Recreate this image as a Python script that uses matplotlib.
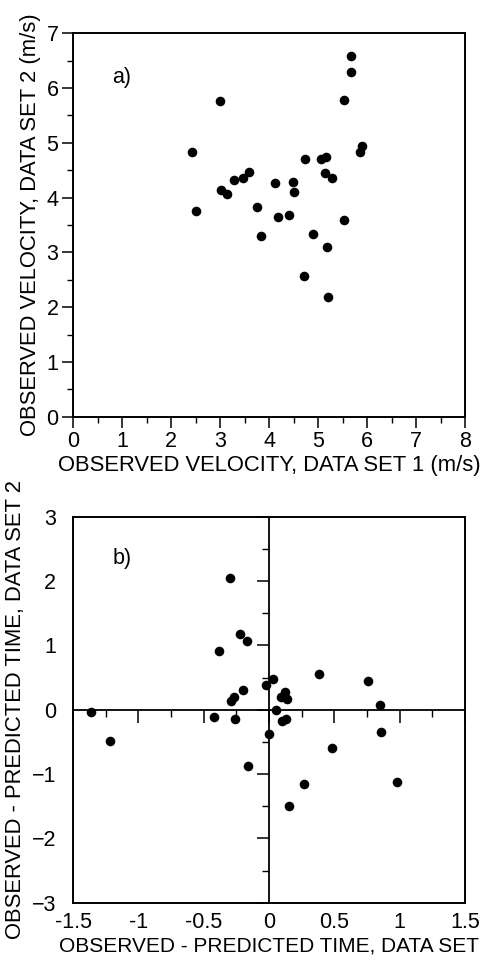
import matplotlib
matplotlib.use("Agg")
import matplotlib.pyplot as plt
from matplotlib.ticker import MultipleLocator

plt.rcParams['font.family'] = ['Liberation Sans', 'DejaVu Sans']

# panel a) observed velocity, data set 1 vs data set 2 (m/s)
vel_set1 = [2.43, 2.52, 3.01, 3.03, 3.14, 3.29, 3.46, 3.59, 3.76, 3.83,
            4.13, 4.18, 4.41, 4.49, 4.50, 4.71, 4.73, 4.90, 5.07, 5.16,
            5.14, 5.19, 5.21, 5.29, 5.54, 5.53, 5.67, 5.68, 5.86, 5.90]
vel_set2 = [4.84, 3.76, 5.76, 4.13, 4.07, 4.32, 4.36, 4.47, 3.82, 3.30,
            4.27, 3.65, 3.69, 4.28, 4.11, 2.56, 4.70, 3.34, 4.70, 4.74,
            4.45, 3.09, 2.18, 4.35, 5.79, 3.60, 6.29, 6.58, 4.83, 4.94]

# panel b) observed - predicted time residuals
res_set1 = [-1.36, -1.22, -0.42, -0.38, -0.30, -0.29, -0.27, -0.26, -0.22, -0.20,
            -0.17, -0.16, -0.02, 0.00, 0.03, 0.05, 0.09, 0.12, 0.14, 0.10,
            0.13, 0.15, 0.27, 0.38, 0.48, 0.76, 0.85, 0.86, 0.98]
res_set2 = [-0.04, -0.48, -0.12, 0.91, 2.04, 0.13, 0.19, -0.15, 1.18, 0.30,
            1.07, -0.88, 0.39, -0.37, 0.47, -0.01, 0.19, 0.27, 0.16, -0.18,
            -0.15, -1.49, -1.16, 0.55, -0.60, 0.44, 0.07, -0.35, -1.13]

TICK_FS = 15.5
LABEL_FS = 15.8
W, H = 484, 965
fig = plt.figure(figsize=(W / 100, H / 100), dpi=100)

# ----- top panel -----
ax1 = fig.add_axes([73 / W, 1 - 416.7 / H, 392 / W, 383.4 / H])
ax1.scatter(vel_set1, vel_set2, s=48, color='black', linewidths=0, zorder=3)
ax1.set_xlim(0, 8)
ax1.set_ylim(0, 7)
ax1.xaxis.set_major_locator(MultipleLocator(1))
ax1.xaxis.set_minor_locator(MultipleLocator(0.5))
ax1.yaxis.set_major_locator(MultipleLocator(1))
ax1.yaxis.set_minor_locator(MultipleLocator(0.5))
ax1.tick_params(which='major', direction='out', length=8, width=1.1,
                labelsize=TICK_FS, pad=2.5)
ax1.tick_params(which='minor', direction='out', length=4, width=1.0)
for sp in ax1.spines.values():
    sp.set_linewidth(1.4)
ax1.set_xlabel("OBSERVED VELOCITY, DATA SET 1 (m/s)", fontsize=LABEL_FS, labelpad=2)
ax1.set_ylabel("OBSERVED VELOCITY, DATA SET 2 (m/s)", fontsize=LABEL_FS, labelpad=4)
ax1.text(0.10, 0.885, "a)", transform=ax1.transAxes, fontsize=TICK_FS, va='center')

# ----- bottom panel -----
pos2 = [73 / W, 1 - 902.7 / H, 392 / W, 386 / H]
ax2 = fig.add_axes(pos2)
ax2.scatter(res_set1, res_set2, s=48, color='black', linewidths=0, zorder=3)
ax2.set_xlim(-1.5, 1.5)
ax2.set_ylim(-3, 3)
ax2.set_xticks([-1.5, -1, -0.5, 0, 0.5, 1, 1.5])
ax2.set_xticklabels(["-1.5", "-1", "-0.5", "0", "0.5", "1", "1.5"])
ax2.set_yticks([-3, -2, -1, 0, 1, 2, 3])
ax2.tick_params(axis='x', length=0, labelsize=TICK_FS, pad=7)
ax2.tick_params(axis='y', length=0, labelsize=TICK_FS, pad=12)
for sp in ax2.spines.values():
    sp.set_linewidth(1.4)
ax2.set_xlabel("OBSERVED - PREDICTED TIME, DATA SET", fontsize=15, labelpad=2)
ax2.set_ylabel("OBSERVED - PREDICTED TIME, DATA SET 2", fontsize=LABEL_FS, labelpad=4)
ax2.text(0.10, 0.893, "b)", transform=ax2.transAxes, fontsize=TICK_FS, va='center')

# center cross axes with ticks
axc = fig.add_axes(pos2, frameon=True, facecolor='none')
axc.set_xlim(-1.5, 1.5)
axc.set_ylim(-3, 3)
for name in ['top', 'right']:
    axc.spines[name].set_visible(False)
axc.spines['left'].set_position(('data', 0))
axc.spines['bottom'].set_position(('data', 0))
axc.spines['left'].set_linewidth(1.3)
axc.spines['bottom'].set_linewidth(1.3)
axc.xaxis.set_major_locator(MultipleLocator(0.5))
axc.xaxis.set_minor_locator(MultipleLocator(0.25))
axc.yaxis.set_major_locator(MultipleLocator(1))
axc.yaxis.set_minor_locator(MultipleLocator(0.5))
axc.tick_params(which='major', direction='out', length=9, width=1.1,
                labelbottom=False, labelleft=False)
axc.tick_params(which='minor', direction='out', length=5, width=1.0)

fig.savefig("out.png", dpi=100)
